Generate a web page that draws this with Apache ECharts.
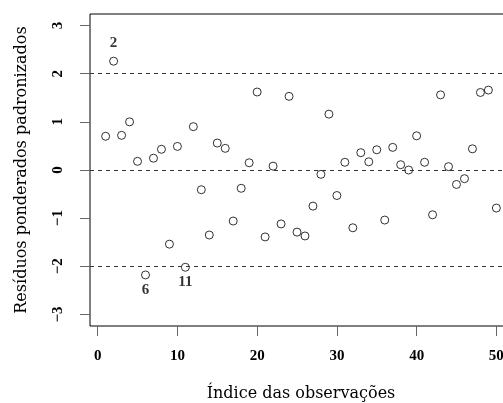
<!DOCTYPE html>
<html><head><meta charset="utf-8">
<script src="https://cdn.jsdelivr.net/npm/echarts@6/dist/echarts.min.js"></script>
<style>html,body{margin:0;padding:0;background:#fff}#c{width:503px;height:403px}</style>
</head><body><div id="c"></div>
<script>
const indices = [1,2,3,4,5,6,7,8,9,10,11,12,13,14,15,16,17,18,19,20,21,22,23,24,25,26,27,28,29,30,31,32,33,34,35,36,37,38,39,40,41,42,43,44,45,46,47,48,49,50];
const residuals = [0.70,2.26,0.72,1.00,0.18,-2.18,0.245,0.43,-1.54,0.49,-2.02,0.90,-0.41,-1.35,0.56,0.45,-1.06,-0.38,0.15,1.62,-1.39,0.08,-1.12,1.53,-1.29,-1.37,-0.75,-0.09,1.16,-0.53,0.16,-1.20,0.36,0.17,0.42,-1.04,0.47,0.11,0.00,0.71,0.16,-0.93,1.56,0.07,-0.30,-0.18,0.44,1.61,1.66,-0.79];
const labeledAbove = [2];
const labeledBelow = [6, 11];
const refLines = [2, 0, -2];
const xTicks = [0,10,20,30,40,50];
const yTicks = [-3,-2,-1,0,1,2,3];
const xTitle = 'Índice das observações';
const yTitle = 'Resíduos ponderados padronizados';

const serif = 'DejaVu Serif';
const tickFont = 'Liberation Serif';
const data = indices.map((x,i) => {
  const d = {value:[x, residuals[i]]};
  if (labeledAbove.includes(x)) d.label = {show:true, position:'top', distance:6};
  if (labeledBelow.includes(x)) d.label = {show:true, position:'bottom', distance:3};
  return d;
});

const chart = echarts.init(document.getElementById('c'), null, {renderer:'canvas'});
chart.setOption({
  animation:false,
  backgroundColor:'#fff',
  grid:{left:90, top:14, right:-9, bottom:77, show:true, borderColor:'#000', borderWidth:1, backgroundColor:'transparent', outerBoundsMode:'none', containLabel:false},
  xAxis:{type:'value', min:-0.96, max:51.96,
    name:xTitle, nameLocation:'middle', nameGap:60,
    nameTextStyle:{fontFamily:serif, fontSize:16, color:'#000'},
    axisLine:{show:false, onZero:false}, splitLine:{show:false},
    axisTick:{show:true, customValues:xTicks, length:10, lineStyle:{color:'#666'}},
    axisLabel:{customValues:xTicks, margin:23, fontFamily:tickFont, fontWeight:'bold', fontSize:15, color:'#000'}
  },
  yAxis:{type:'value', min:-3.24, max:3.24,
    name:yTitle, nameLocation:'middle', nameGap:60, nameRotate:90,
    nameTextStyle:{fontFamily:serif, fontSize:16, color:'#000'},
    axisLine:{show:false, onZero:false}, splitLine:{show:false},
    axisTick:{show:true, customValues:yTicks, length:10, lineStyle:{color:'#666'}},
    axisLabel:{customValues:yTicks, rotate:90, margin:24, fontFamily:tickFont, fontWeight:'bold', fontSize:15, color:'#000',
      formatter:v => String(v).replace('-', '\u2212')}
  },
  series:[{
    type:'scatter', data:data, symbol:'circle', symbolSize:8,
    itemStyle:{color:'transparent', borderColor:'#000', borderWidth:1},
    label:{show:false, formatter:p => String(p.value[0]), fontFamily:tickFont, fontWeight:'bold', fontSize:15, color:'#000'},
    emphasis:{disabled:true},
    markLine:{silent:true, symbol:'none', label:{show:false},
      lineStyle:{type:[4,4], color:'#333', width:1},
      data: refLines.map(v => ({yAxis:v}))}
  }]
});
</script></body></html>
